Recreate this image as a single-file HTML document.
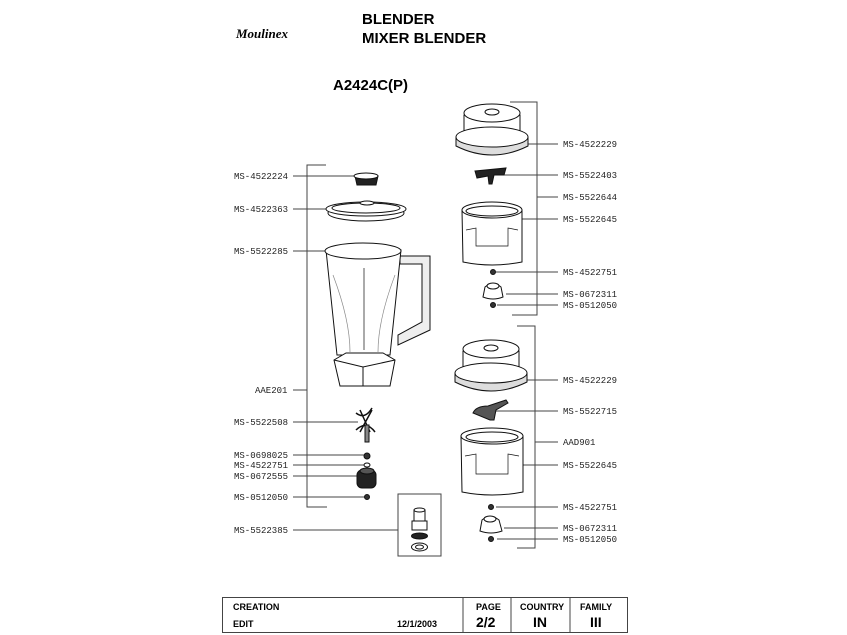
<!DOCTYPE html>
<html><head><meta charset="utf-8"><style>
html,body{margin:0;padding:0;background:#fff;}
svg{display:block}
.l{font-family:"Liberation Mono",monospace;font-size:9px;fill:#222}
.h{font-family:"Liberation Sans",sans-serif;font-weight:bold;fill:#000}
</style></head><body>
<svg width="847" height="635" viewBox="0 0 847 635" xmlns="http://www.w3.org/2000/svg">
<g fill="none" stroke="#222" stroke-width="1">
<!-- header -->
</g>
<text x="236" y="38" class="h" style="font-family:'Liberation Serif',serif;font-style:italic;font-size:13px">Moulinex</text>
<text x="362" y="24" class="h" font-size="15">BLENDER</text>
<text x="362" y="43" class="h" font-size="15">MIXER BLENDER</text>
<text x="333" y="90" class="h" font-size="15">A2424C(P)</text>

<!-- brackets -->
<g fill="none" stroke="#444" stroke-width="1">
<polyline points="326,165 307,165 307,507 327,507"/>
<polyline points="510,102 537,102 537,315 512,315"/>
<polyline points="517,326 535,326 535,548 517,548"/>
<rect x="398" y="494" width="43" height="62"/>
<!-- left leaders -->
<line x1="293" y1="176" x2="355" y2="176"/>
<line x1="293" y1="209" x2="360" y2="209"/>
<line x1="293" y1="251" x2="326" y2="251"/>
<line x1="293" y1="390" x2="307" y2="390"/>
<line x1="293" y1="422" x2="358" y2="422"/>
<line x1="293" y1="455" x2="365" y2="455"/>
<line x1="293" y1="465" x2="364" y2="465"/>
<line x1="293" y1="476" x2="358" y2="476"/>
<line x1="293" y1="497" x2="366" y2="497"/>
<line x1="293" y1="530" x2="398" y2="530"/>
<!-- right leaders -->
<line x1="520" y1="144" x2="558" y2="144"/>
<line x1="495" y1="175" x2="558" y2="175"/>
<line x1="537" y1="197" x2="558" y2="197"/>
<line x1="522" y1="219" x2="558" y2="219"/>
<line x1="496" y1="272" x2="558" y2="272"/>
<line x1="506" y1="294" x2="558" y2="294"/>
<line x1="497" y1="305" x2="558" y2="305"/>
<line x1="522" y1="380" x2="558" y2="380"/>
<line x1="496" y1="411" x2="558" y2="411"/>
<line x1="535" y1="442" x2="558" y2="442"/>
<line x1="521" y1="465" x2="558" y2="465"/>
<line x1="496" y1="507" x2="558" y2="507"/>
<line x1="504" y1="528" x2="558" y2="528"/>
<line x1="497" y1="539" x2="558" y2="539"/>
</g>

<!-- left labels -->
<g class="l">
<text x="234" y="179">MS-4522224</text>
<text x="234" y="212">MS-4522363</text>
<text x="234" y="254">MS-5522285</text>
<text x="255" y="393">AAE201</text>
<text x="234" y="425">MS-5522508</text>
<text x="234" y="458">MS-0698025</text>
<text x="234" y="468">MS-4522751</text>
<text x="234" y="479">MS-0672555</text>
<text x="234" y="500">MS-0512050</text>
<text x="234" y="533">MS-5522385</text>
<text x="563" y="147">MS-4522229</text>
<text x="563" y="178">MS-5522403</text>
<text x="563" y="200">MS-5522644</text>
<text x="563" y="222">MS-5522645</text>
<text x="563" y="275">MS-4522751</text>
<text x="563" y="297">MS-0672311</text>
<text x="563" y="308">MS-0512050</text>
<text x="563" y="383">MS-4522229</text>
<text x="563" y="414">MS-5522715</text>
<text x="563" y="445">AAD901</text>
<text x="563" y="468">MS-5522645</text>
<text x="563" y="510">MS-4522751</text>
<text x="563" y="531">MS-0672311</text>
<text x="563" y="542">MS-0512050</text>
</g>

<g fill="#fff" stroke="#111" stroke-width="1">
<!-- cap -->
<path d="M355,176 L357,185 L376,185 L378,176 Z" fill="#222"/>
<ellipse cx="366" cy="176" rx="12" ry="3"/>
<!-- lid -->
<ellipse cx="366" cy="213" rx="38" ry="8"/>
<ellipse cx="366" cy="209" rx="40" ry="7"/>
<ellipse cx="366" cy="208" rx="34" ry="5"/>
<ellipse cx="367" cy="203" rx="7" ry="2"/>
<!-- handle -->
<path d="M400,256 L430,256 L430,330 L398,345 L398,335 L422,322 L422,264 L400,264 Z" fill="#eee"/>
<!-- jar -->
<path d="M326,250 L337,355 L390,355 L401,250 Z"/>
<ellipse cx="363" cy="251" rx="38" ry="8"/>
<path d="M333,275 Q350,320 350,352 M395,275 Q378,320 378,352" fill="none" stroke="#888" stroke-width=".7"/>
<line x1="364" y1="268" x2="364" y2="350" stroke="#555"/>
<!-- base -->
<path d="M334,360 L346,353 L383,353 L395,360 L390,386 L340,386 Z"/>
<path d="M334,360 L363,367 L395,360" fill="none"/>
<line x1="363" y1="367" x2="363" y2="386"/>
<!-- blade -->
<path d="M356,413 Q365,420 372,408 M356,430 Q366,420 375,432 M360,410 L370,432 M372,410 L360,432" fill="none" stroke-width="1.5"/>
<rect x="365" y="425" width="4" height="17" fill="#888"/>
<!-- small parts left -->
<circle cx="367" cy="456" r="3" fill="#333"/>
<ellipse cx="367" cy="465" rx="3" ry="2"/>
<rect x="357" y="470" width="19" height="18" rx="5" fill="#222"/>
<ellipse cx="367" cy="471" rx="7" ry="3" fill="#555"/>
<circle cx="367" cy="497" r="2.5" fill="#333"/>
<!-- box parts -->
<rect x="414" y="510" width="11" height="12"/>
<ellipse cx="419.5" cy="510" rx="5.5" ry="2"/>
<rect x="412" y="521" width="15" height="9"/>
<ellipse cx="419.5" cy="536" rx="8" ry="3" fill="#222"/>
<ellipse cx="419.5" cy="547" rx="8" ry="4"/>
<ellipse cx="419.5" cy="547" rx="4" ry="2"/>

<!-- right group 1 -->
<g id="g1">
<path d="M464,135 L464,115 Q491,100 520,115 L520,135 Z"/>
<ellipse cx="492" cy="113" rx="28" ry="9"/>
<ellipse cx="492" cy="112" rx="7" ry="3"/>
<path d="M456,137 L456,146 Q492,164 528,146 L528,137" fill="#ddd"/>
<ellipse cx="492" cy="137" rx="36" ry="10"/>
</g>
<path d="M475,171 L506,168 L504,175 L494,175 L492,184 L489,184 L488,176 L477,178 Z" fill="#222"/>
<path d="M462,210 L463,262 Q492,268 522,262 L522,210 Z"/>
<ellipse cx="492" cy="210" rx="30" ry="8"/>
<ellipse cx="492" cy="211" rx="26" ry="5"/>
<path d="M466,230 L476,228 L476,246 L508,246 L508,228 L518,230" fill="none" stroke-width=".7"/>
<circle cx="493" cy="272" r="2.5" fill="#333"/>
<path d="M483,297 L485,287 Q493,280 501,287 L503,297 Q493,301 483,297 Z"/>
<ellipse cx="493" cy="286" rx="6" ry="3"/>
<circle cx="493" cy="305" r="2.5" fill="#333"/>

<!-- right group 2 -->
<use href="#g1" transform="translate(-1,236)"/>
<path d="M473,413 Q476,406 488,406 L506,400 L508,403 L496,410 L494,420 L490,420 Z" fill="#555"/>
<path d="M461,436 L462,492 Q492,498 523,492 L523,436 Z"/>
<ellipse cx="492" cy="436" rx="31" ry="8"/>
<ellipse cx="492" cy="437" rx="26" ry="5"/>
<path d="M465,456 L476,454 L476,474 L508,474 L508,454 L519,456" fill="none" stroke-width=".7"/>
<circle cx="491" cy="507" r="2.5" fill="#333"/>
<path d="M480,531 L482,520 Q490,513 499,520 L502,531 Q491,535 480,531 Z"/>
<ellipse cx="490" cy="519" rx="6" ry="3"/>
<circle cx="491" cy="539" r="2.5" fill="#333"/>
</g>

<!-- footer table -->
<g fill="none" stroke="#444" stroke-width="1">
<rect x="222.5" y="597.5" width="405" height="35"/>
<line x1="463" y1="597" x2="463" y2="633"/>
<line x1="511" y1="597" x2="511" y2="633"/>
<line x1="570" y1="597" x2="570" y2="633"/>
</g>
<g class="h">
<text x="233" y="610" font-size="9">CREATION</text>
<text x="233" y="627" font-size="9">EDIT</text>
<text x="397" y="627" font-size="9">12/1/2003</text>
<text x="476" y="610" font-size="9">PAGE</text>
<text x="476" y="627" font-size="14">2/2</text>
<text x="520" y="610" font-size="9">COUNTRY</text>
<text x="533" y="627" font-size="14">IN</text>
<text x="580" y="610" font-size="9">FAMILY</text>
<text x="590" y="627" font-size="14">III</text>
</g>
</svg>
</body></html>
